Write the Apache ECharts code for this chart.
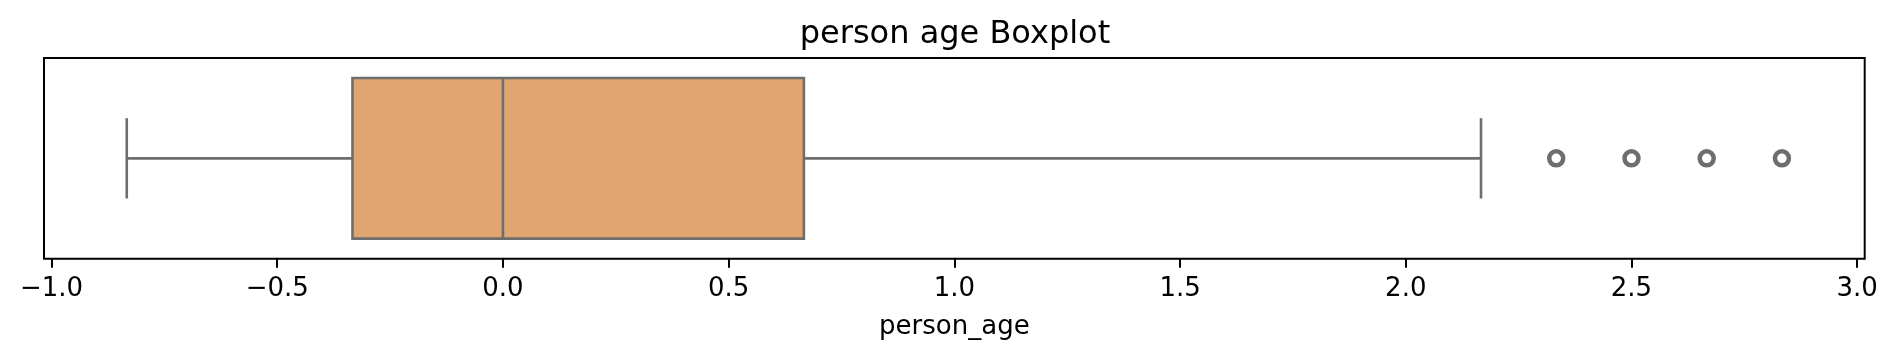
<!DOCTYPE html>
<html>
<head>
<meta charset="utf-8">
<script src="https://cdn.jsdelivr.net/npm/echarts@6/dist/echarts.min.js"></script>
<style>
  html, body { margin: 0; padding: 0; background: #fff; }
  #chart { width: 1898px; height: 360px; }
</style>
</head>
<body>
<div id="chart"></div>
<script>
// ---- data ----
const categories = ['person_age'];
// [low whisker, Q1, median, Q3, high whisker]
const boxStats = [[-0.8333, -0.3333, 0.0, 0.6667, 2.1667]];
const outliers = [2.3333, 2.5, 2.6667, 2.8333];
const xTicks = [-1.0, -0.5, 0.0, 0.5, 1.0, 1.5, 2.0, 2.5, 3.0];
const titleText = 'person age Boxplot';
const xLabel = 'person_age';

const FILL = '#e1a572';
const LINE = '#6e6e6e';
const FONT = 'DejaVu Sans';

const boxData = boxStats.map((s, i) => [i].concat(s));
const outlierData = outliers.map(v => [v, 0]);

const chart = echarts.init(document.getElementById('chart'), null, { renderer: 'canvas' });

function fmt(v) {
  const s = Math.abs(v).toFixed(1);
  return (v < 0 ? '\u2212' : '') + s;
}

chart.setOption({
  animation: false,
  backgroundColor: '#fff',
  title: {
    text: titleText,
    left: 950,
    textAlign: 'center',
    top: 14,
    textStyle: { fontFamily: FONT, fontSize: 32, fontWeight: 'normal', color: '#000' }
  },
  grid: {
    left: 44, top: 58, right: 33.3, bottom: 101.3,
    show: true, borderColor: '#000', borderWidth: 2, backgroundColor: 'transparent'
  },
  xAxis: {
    type: 'value',
    min: -1.016667,
    max: 3.016667,
    name: xLabel,
    nameLocation: 'middle',
    nameGap: 56,
    nameTextStyle: { fontFamily: FONT, fontSize: 26, color: '#000' },
    splitLine: { show: false },
    axisLine: { show: false },
    axisTick: { show: true, length: 9, lineStyle: { color: '#000', width: 2 }, customValues: xTicks },
    axisLabel: {
      show: true, margin: 18, fontFamily: FONT, fontSize: 26, color: '#000',
      customValues: xTicks, formatter: fmt
    }
  },
  yAxis: {
    type: 'category',
    data: categories,
    inverse: true,
    axisLine: { show: false },
    axisTick: { show: true, alignWithLabel: true, length: 9, lineStyle: { color: '#000', width: 2 } },
    axisLabel: { show: false },
    splitLine: { show: false }
  },
  series: [
    {
      type: 'custom',
      data: boxData,
      encode: { x: [1, 2, 3, 4, 5], y: 0 },
      renderItem: function (params, api) {
        const cat = api.value(0);
        const lo = api.value(1), q1 = api.value(2), med = api.value(3), q3 = api.value(4), hi = api.value(5);
        const band = api.size([0, 1])[1];
        const boxH = band * 0.8;
        const capH = boxH * 0.5;
        const pLo = api.coord([lo, cat]);
        const pQ1 = api.coord([q1, cat]);
        const pMed = api.coord([med, cat]);
        const pQ3 = api.coord([q3, cat]);
        const pHi = api.coord([hi, cat]);
        const cy = pQ1[1];
        const lineStyle = { stroke: LINE, lineWidth: 2.6, fill: null };
        return {
          type: 'group',
          children: [
            { type: 'line', shape: { x1: pLo[0], y1: cy, x2: pQ1[0], y2: cy }, style: lineStyle },
            { type: 'line', shape: { x1: pQ3[0], y1: cy, x2: pHi[0], y2: cy }, style: lineStyle },
            { type: 'line', shape: { x1: pLo[0], y1: cy - capH / 2, x2: pLo[0], y2: cy + capH / 2 }, style: lineStyle },
            { type: 'line', shape: { x1: pHi[0], y1: cy - capH / 2, x2: pHi[0], y2: cy + capH / 2 }, style: lineStyle },
            { type: 'rect', shape: { x: pQ1[0], y: cy - boxH / 2, width: pQ3[0] - pQ1[0], height: boxH },
              style: { fill: FILL, stroke: LINE, lineWidth: 2.6 } },
            { type: 'line', shape: { x1: pMed[0], y1: cy - boxH / 2, x2: pMed[0], y2: cy + boxH / 2 }, style: lineStyle }
          ]
        };
      }
    },
    {
      type: 'scatter',
      data: outlierData,
      symbol: 'circle',
      symbolSize: 14,
      itemStyle: { color: 'rgba(0,0,0,0)', borderColor: LINE, borderWidth: 4.5, opacity: 1 },
      z: 5
    }
  ]
});
</script>
</body>
</html>
